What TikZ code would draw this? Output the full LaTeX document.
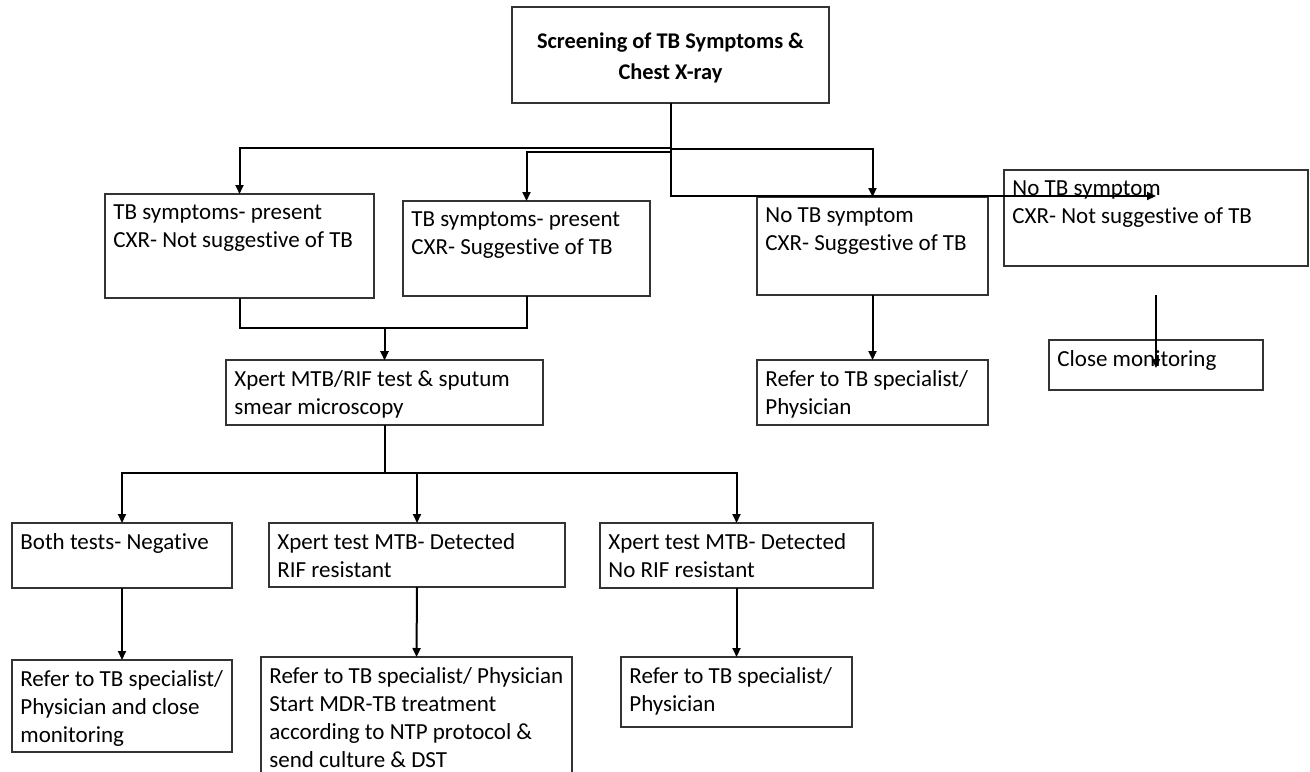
\documentclass[tikz,border=0pt]{standalone}
\usepackage{fontspec}
\setmainfont{Carlito}[Ligatures=NoCommon]
\usetikzlibrary{arrows.meta,calc}

\begin{document}
\begin{tikzpicture}[
  x=0.5pt, y=-0.5pt,
  font=\fontsize{11.5}{14}\selectfont,
  box/.style={draw=black!80, line width=0.65pt, anchor=north west,
              inner sep=0pt, outer sep=0pt},
  txt/.style={anchor=north west, align=left, inner xsep=4pt, inner ysep=5pt},
  ln/.style={line width=1pt},
  arr/.style={ln, -{Triangle[length=4.5pt, width=4pt]}},
]
\fill[white] (0,0) rectangle (1310,771);
\useasboundingbox (0,0) rectangle (1310,771);

% screening step
\node[box, anchor=north west, minimum width=158.5pt, minimum height=48pt] (scr) at (512,7) {};
\node[align=center, font=\fontsize{11.2}{15.5}\selectfont\bfseries] (scrt)
  at ($(scr.center)+(0,3)$) {Screening of TB Symptoms \&\\Chest X-ray};

% screening outcomes
\node[box, minimum width=134.5pt, minimum height=52pt] (sA) at (105,194) {};
\node[txt] (sAt) at (sA.north west) {TB symptoms- present\\CXR- Not suggestive of TB};
\node[box, minimum width=123.5pt, minimum height=47.5pt] (sB) at (403,201) {};
\node[txt] (sBt) at (sB.north west) {TB symptoms- present\\CXR- Suggestive of TB};
\node[box, minimum width=115.5pt, minimum height=49pt] (sC) at (757,197) {};
\node[txt] (sCt) at (sC.north west) {No TB symptom\\CXR- Suggestive of TB};
\node[box, minimum width=152pt, minimum height=48pt] (sD) at (1004,170) {};
\node[txt] (sDt) at (sD.north west) {No TB symptom\\CXR- Not suggestive of TB};

% second row
\node[box, minimum width=158.5pt, minimum height=32.5pt] (xpert) at (226,360) {};
\node[txt] (xpertt) at (xpert.north west) {Xpert MTB/RIF test \& sputum\\smear microscopy};
\node[box, minimum width=115.5pt, minimum height=32.5pt] (refC) at (757,360) {};
\node[txt] (refCt) at (refC.north west) {Refer to TB specialist/\\Physician};
\node[box, minimum width=107pt, minimum height=25pt] (mon) at (1049,340) {};
\node[txt] (mont) at (mon.north west) {Close monitoring};

% test results
\node[box, minimum width=110pt, minimum height=32.5pt] (neg) at (12,523) {};
\node[txt] (negt) at (neg.north west) {Both tests- Negative};
\node[box, minimum width=148pt, minimum height=32pt] (rr) at (269,523) {};
\node[txt] (rrt) at (rr.north west) {Xpert test MTB- Detected\\RIF resistant};
\node[box, minimum width=136.5pt, minimum height=32.5pt] (nrr) at (600,523) {};
\node[txt] (nrrt) at (nrr.north west) {Xpert test MTB- Detected\\No RIF resistant};

% actions
\node[box, minimum width=110pt, minimum height=46pt] (refNeg) at (12,660) {};
\node[txt] (refNegt) at (refNeg.north west) {Refer to TB specialist/\\Physician and close\\monitoring};
\node[box, minimum width=155.5pt, minimum height=65pt] (mdr) at (261,657) {};
\node[txt] (mdrt) at (mdr.north west) {Refer to TB specialist/ Physician\\Start MDR-TB treatment\\according to NTP protocol \&\\send culture \& DST};
\node[box, minimum width=115.5pt, minimum height=35pt] (refNrr) at (621,657) {};
\node[txt] (refNrrt) at (refNrr.north west) {Refer to TB specialist/\\Physician};

% connectors
\draw[arr] (scr.south) -- ++(0,45) -| (sA.north);
\draw[arr] (scr.south) -- ++(0,49) -| (sB.north);
\draw[arr] (scr.south) -- ++(0,46) -| (sC.north);
\coordinate (dTip) at (1156,196);
\draw[arr] (scr.south) |- (dTip);
\coordinate (monTop) at (1156,295);
\coordinate (monTip) at (1156,368);
\draw[arr, line width=0.8pt] (monTop) -- (monTip);

\draw[arr] (sA.south) -- ++(0,30) -| (xpert.north);
\draw[arr] (sB.south) -- ++(0,32) -| (xpert.north);
\draw[arr] (sC.south) -- (refC.north);

\draw[arr] (xpert.south) -- ++(0,48) -| (neg.north);
\draw[arr] (xpert.south) -- ++(0,48) -| (rr.north);
\draw[arr] (xpert.south) -- ++(0,48) -| (nrr.north);
\draw[arr] (neg.south) -- (refNeg.north);
\draw[arr] (rr.south) -- (mdr.north);
\draw[arr] (nrr.south) -- (refNrr.north);
\end{tikzpicture}
\end{document}
